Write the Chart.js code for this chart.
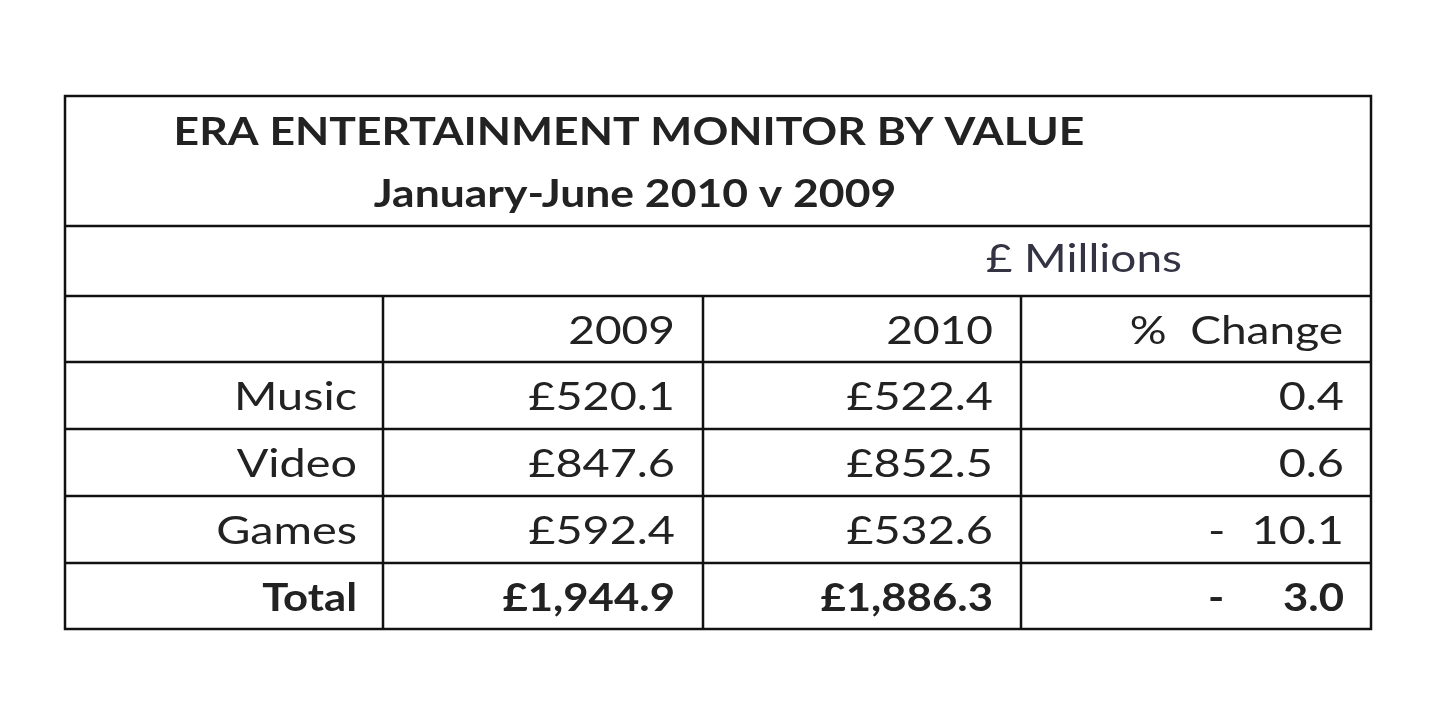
<!DOCTYPE html>
<html><head><meta charset="utf-8">
<script src="https://cdn.jsdelivr.net/npm/chart.js@4"></script>
<style>html,body{margin:0;background:#fff}#w{width:1440px;height:715px}</style>
</head><body><div id="w"><canvas id="c"></canvas></div>
<script>
const titleLines = ["ERA ENTERTAINMENT MONITOR BY VALUE", "January-June 2010 v 2009"];
const unitLabel = "£ Millions";
const headers = ["", "2009", "2010", "%  Change"];
const categories = ["Music", "Video", "Games", "Total"];
const values2009 = ["£520.1", "£847.6", "£592.4", "£1,944.9"];
const values2010 = ["£522.4", "£852.5", "£532.6", "£1,886.3"];
const pctChange = [0.4, 0.6, -10.1, -3.0];

const colEdges = [0, 318, 638, 956, 1306];
const rowEdges = [0, 130, 200, 266, 333, 400, 467, 533];

function txt(ctx, s, x, y, align, sx) {
  ctx.save();
  ctx.translate(x, y); ctx.scale(sx, 1);
  ctx.textAlign = align;
  ctx.fillText(s, 0, 0);
  ctx.restore();
}

const tablePlugin = {
  id: 'table',
  afterDraw(chart) {
    const ctx = chart.ctx, X = chart.scales.x, Y = chart.scales.y;
    const px = v => X.getPixelForValue(v), py = v => Y.getPixelForValue(v);
    ctx.save();
    ctx.strokeStyle = '#111'; ctx.lineWidth = 2.5;
    ctx.strokeRect(px(0), py(0), px(1306) - px(0), py(533) - py(0));
    rowEdges.slice(1, -1).forEach(r => { ctx.beginPath(); ctx.moveTo(px(0), py(r)); ctx.lineTo(px(1306), py(r)); ctx.stroke(); });
    colEdges.slice(1, -1).forEach(c => { ctx.beginPath(); ctx.moveTo(px(c), py(200)); ctx.lineTo(px(c), py(533)); ctx.stroke(); });
    ctx.fillStyle = '#222'; ctx.textBaseline = 'middle';
    ctx.font = 'bold 38px Lato';
    txt(ctx, titleLines[0], px(564), py(37), 'center', 1.17);
    txt(ctx, titleLines[1], px(570), py(99), 'center', 1.17);
    ctx.font = '39px Lato';
    ctx.fillStyle = '#334';
    txt(ctx, unitLabel, px(1117), py(163), 'right', 1.18);
    ctx.fillStyle = '#222';
    const mid = i => (rowEdges[i] + rowEdges[i + 1]) / 2 + 2;
    headers.forEach((h, j) => { if (h) txt(ctx, h, px(colEdges[j + 1] - 28), py(mid(2)), 'right', 1.18); });
    categories.forEach((cat, i) => {
      const bold = i === categories.length - 1;
      ctx.font = (bold ? 'bold ' : '') + '39px Lato';
      const y = py(mid(3 + i));
      const sx = bold ? 1.12 : 1.2;
      txt(ctx, cat, px(colEdges[1] - 26), y, 'right', sx);
      txt(ctx, values2009[i], px(colEdges[2] - 28), y, 'right', sx);
      txt(ctx, values2010[i], px(colEdges[3] - 28), y, 'right', sx);
      const v = pctChange[i];
      txt(ctx, Math.abs(v).toFixed(1), px(colEdges[4] - 27), y, 'right', sx);
      if (v < 0) txt(ctx, '-', px(1143), y, 'left', sx);
    });
    ctx.restore();
  }
};

new Chart(document.getElementById('c'), {
  type: 'scatter',
  data: { datasets: [{ data: [], pointRadius: 0 }] },
  options: {
    responsive: true, maintainAspectRatio: false, animation: false,
    layout: { padding: { left: 65, right: 69, top: 96, bottom: 86 } },
    plugins: { legend: { display: false }, tooltip: { enabled: false } },
    scales: {
      x: { type: 'linear', min: 0, max: 1306, display: false },
      y: { type: 'linear', min: 0, max: 533, reverse: true, display: false }
    }
  },
  plugins: [tablePlugin]
});
</script></body></html>
